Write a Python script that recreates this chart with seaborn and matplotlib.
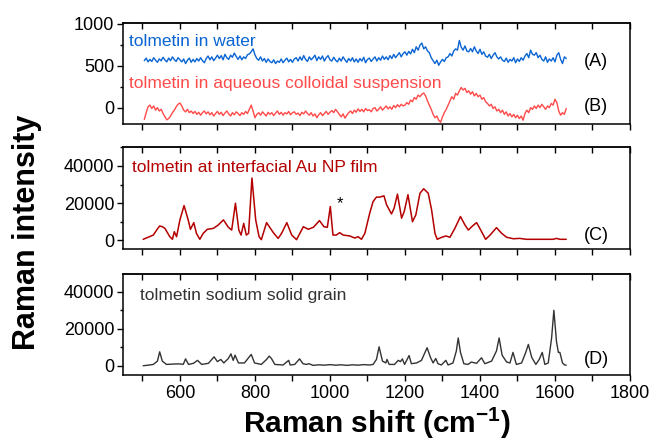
import numpy as np
import pandas as pd
import matplotlib
matplotlib.use("Agg")
import matplotlib.pyplot as plt
from matplotlib.ticker import MultipleLocator, NullLocator
import seaborn as sns

# ---------------- data ----------------
shift_ab = list(range(505, 1631, 5))

water = [
    560, 590, 545, 575, 550, 595, 565, 540, 580, 558,
    600, 568, 545, 590, 560, 605, 572, 550, 595, 570,
    545, 580, 525, 565, 590, 540, 575, 545, 585, 555,
    595, 560, 535, 585, 615, 570, 605, 560, 590, 625,
    585, 620, 570, 635, 595, 575, 625, 600, 650, 610,
    575, 615, 570, 605, 585, 630, 640, 665, 700, 630,
    585, 565, 605, 555, 585, 540, 580, 550, 535, 570,
    525, 555, 540, 580, 535, 565, 590, 545, 575, 540,
    580, 595, 555, 605, 565, 620, 575, 550, 605, 570,
    595, 625, 560, 605, 575, 615, 555, 595, 620, 570,
    555, 600, 565, 545, 590, 555, 605, 570, 540, 585,
    555, 595, 545, 580, 540, 585, 555, 600, 535, 575,
    590, 550, 580, 605, 555, 595, 565, 615, 575, 605,
    570, 620, 585, 635, 595, 625, 655, 605, 645, 665,
    625, 670, 640, 695, 655, 725, 685, 745, 770, 700,
    725, 675, 655, 595, 560, 525, 565, 505, 545, 575,
    550, 595, 605, 645, 615, 675, 700, 685, 800, 720,
    685, 735, 675, 665, 705, 665, 725, 675, 645, 695,
    635, 665, 615, 600, 635, 585, 625, 655, 605, 580,
    605, 565, 550, 590, 540, 575, 555, 595, 535, 580,
    550, 595, 565, 615, 645, 595, 685, 635, 625, 655,
    595, 625, 575, 555, 605, 540, 580, 555, 595, 545,
    625, 655, 575, 525, 605, 585,
]

colloid = [
    -140, -60, 10, 30, -10, 20, -30, 0, -40, -20,
    -70, -110, -145, -130, -100, -60, -30, 10, 40, 55,
    20, -30, -50, -20, -60, -40, -70, -45, -80, -55,
    -90, -60, -40, -75, -50, -85, -60, -100, -70, -45,
    -80, -55, -95, -65, -40, -75, -100, -60, -85, -50,
    -70, -95, -60, -80, -45, -70, -20, 30, -40, -120,
    -80, -60, -90, -50, -75, -100, -55, -80, -60, -95,
    -65, -40, -80, -55, -90, -60, -75, -45, -85, -60,
    -50, -80, -65, -95, -55, -75, -40, -70, -90, -60,
    -100, -75, -120, -85, -60, -95, -70, -45, -80, -55,
    -35, -60, -20, -50, -80, -110, -75, -125, -90, -60,
    -40, -70, -30, -55, -15, -45, -20, -50, -10, -35,
    -25, -50, -10, 0, -40, -20, 10, -30, -5, 20,
    -15, 10, -20, 25, 0, 35, 10, 40, 20, 30,
    60, 40, 90, 70, 120, 100, 150, 130, 160, 175,
    140, 80, 30, -20, -80, -120, -100, -150, -175, -110,
    -60, -20, 30, 80, 130, 100, 170, 150, 200, 240,
    210, 230, 180, 200, 160, 190, 140, 170, 130, 150,
    100, 120, 70, 50, 20, 40, -10, 10, -40, -20,
    -60, -30, -80, -50, -100, -70, -110, -80, -120, -90,
    -130, -100, -150, -70, -30, -60, 0, -20, 20, -10,
    30, 0, 40, 10, -20, 20, 0, 50, 30, 100,
    60, -40, -90, -60, -80, -10,
]

shift_c = [502, 515, 529, 540, 546, 553, 560, 573, 580, 585, 591, 600, 611, 622, 628,
           637, 644, 653, 662, 673, 689, 702, 716, 729, 738, 748, 757, 763, 770, 777,
           783, 792, 802, 811, 817, 831, 849, 862, 871, 885, 898, 911, 929, 942, 956,
           972, 984, 993, 1001, 1008, 1017, 1026, 1035, 1053, 1066, 1075, 1084, 1093,
           1106, 1115, 1124, 1133, 1144, 1151, 1164, 1171, 1180, 1191, 1198, 1208, 1220,
           1229, 1240, 1250, 1262, 1271, 1280, 1286, 1298, 1309, 1320, 1333, 1348, 1360,
           1369, 1380, 1391, 1402, 1415, 1427, 1444, 1458, 1471, 1489, 1506, 1524, 1560,
           1595, 1604, 1613, 1630]
film = [400, 1500, 2700, 6000, 7600, 7200, 6300, 1800, 400, 4500, 1800, 10900, 18600, 10900, 5800,
        9400, 3600, 400, 3600, 5800, 6300, 8100, 10900, 6900, 5400, 19900, 5400, 2700, 9000, 2700,
        3600, 33500, 10900, 1800, 200, 9400, 4000, 900, 3600, 9400, 2700, 200, 7200, 5800, 6900,
        10500, 7200, 6900, 18100, 2700, 2700, 4000, 2700, 2200, 1100, 1800, 400, 3600,
        14500, 20800, 23200, 23200, 23900, 19000, 14100, 17200, 24800, 11800, 15400, 24500, 9900,
        13600, 25300, 27700, 25300, 16300, 3600, 400, 1500, 2200, 1500, 6300, 12700, 8100,
        5400, 7600, 9400, 5400, 400, 2700, 6700, 3600, 1500, 700, 900, 400, 400,
        400, 900, 400, 400]

shift_d = [502, 515, 529, 540, 546, 553, 564, 582, 595, 609, 615, 623, 636, 647, 658, 676,
           691, 700, 709, 717, 729, 736, 742, 747, 756, 772, 790, 799, 817, 831, 838, 844,
           853, 875, 890, 894, 906, 919, 928, 937, 944, 955, 970, 985, 1000, 1015, 1030,
           1045, 1060, 1075, 1090, 1105, 1115, 1124, 1131, 1140, 1149, 1152, 1158, 1172,
           1182, 1188, 1193, 1199, 1211, 1217, 1231, 1244, 1259, 1268, 1275, 1282, 1288,
           1297, 1309, 1315, 1328, 1337, 1342, 1348, 1357, 1368, 1377, 1391, 1404, 1413,
           1431, 1444, 1451, 1459, 1471, 1480, 1488, 1497, 1511, 1522, 1529, 1538, 1549,
           1558, 1566, 1573, 1582, 1591, 1597, 1604, 1609, 1613, 1620, 1626, 1630]
grain = [0, 300, 700, 2500, 7500, 2500, 700, 900, 1000, 800, 3700, 700, 1300, 2900, 700, 1300,
         4800, 2200, 3400, 1500, 3900, 6400, 2900, 5700, 1500, 1500, 6100, 1500, 700, 3400, 5200, 3900,
         700, 400, 2900, 400, 700, 3700, 1100, 700, 1100, 200, 500, 300, 600, 300, 500,
         200, 500, 300, 600, 400, 700, 3400, 10200, 2500, 1500, 3400, 700, 700,
         2900, 2200, 3700, 700, 5500, 1100, 1500, 2900, 9700, 4500, 1500, 3900, 1100,
         400, 2900, 400, 1500, 8000, 15000, 7200, 1100, 700, 2000, 1300, 4300, 1100,
         2500, 8000, 15000, 5700, 2000, 1500, 7200, 700, 1500, 7200, 11500, 4500, 700,
         3400, 7200, 700, 1500, 15000, 29900, 13000, 7200, 7200, 1500, 400, 300]

labels = ["tolmetin in water", "tolmetin in aqueous colloidal suspension",
          "tolmetin at interfacial Au NP film", "tolmetin sodium solid grain"]
tags = ["(A)", "(B)", "(C)", "(D)"]
xticks = [600, 800, 1000, 1200, 1400, 1600, 1800]

# ---------------- style ----------------
sns.set_style("ticks")
plt.rcParams["font.family"] = ["Liberation Sans", "DejaVu Sans"]
plt.rcParams["mathtext.fontset"] = "custom"
plt.rcParams["mathtext.rm"] = "Liberation Sans"
plt.rcParams["mathtext.bf"] = "Liberation Sans:bold"
plt.rcParams["text.color"] = "black"
plt.rcParams["xtick.color"] = "black"
plt.rcParams["ytick.color"] = "black"
plt.rcParams["xtick.labelcolor"] = "black"
plt.rcParams["ytick.labelcolor"] = "black"

c_blue = "#0a64d2"
c_red = "#ff4a4a"
c_dred = "#b40000"
c_gray = "#333333"

W, H = 651, 440
fig = plt.figure(figsize=(W / 100, H / 100), dpi=100)

def box(top, bottom):
    l, r = 123.3, 630
    return [l / W, 1 - bottom / H, (r - l) / W, (bottom - top) / H]

axA = fig.add_axes(box(22.7, 124))
axC = fig.add_axes(box(147.3, 249.3))
axD = fig.add_axes(box(274, 375))

dfA = pd.DataFrame({"x": shift_ab, "y": water})
dfB = pd.DataFrame({"x": shift_ab, "y": colloid})
dfC = pd.DataFrame({"x": shift_c, "y": film})
dfD = pd.DataFrame({"x": shift_d, "y": grain})

sns.lineplot(data=dfA, x="x", y="y", ax=axA, color=c_blue, lw=1.0, estimator=None, sort=False)
sns.lineplot(data=dfB, x="x", y="y", ax=axA, color=c_red, lw=1.0, estimator=None, sort=False)
sns.lineplot(data=dfC, x="x", y="y", ax=axC, color=c_dred, lw=1.1, estimator=None, sort=False)
sns.lineplot(data=dfD, x="x", y="y", ax=axD, color=c_gray, lw=1.0, estimator=None, sort=False)

axA.set_ylim(-195, 1012)
axC.set_ylim(-5000, 50100)
axD.set_ylim(-5000, 49500)

for ax in (axA, axC, axD):
    ax.set_xlim(449, 1800)
    ax.xaxis.set_major_locator(MultipleLocator(200))
    ax.xaxis.set_minor_locator(MultipleLocator(100))
    ax.tick_params(axis="x", which="both", direction="out", length=4.5, width=1.0,
                   top=False, bottom=True, labelsize=13, pad=2.5)
    ax.tick_params(axis="y", which="major", direction="out", length=4.5, width=1.0,
                   right=False, labelsize=13, pad=2)
    ax.tick_params(axis="y", which="minor", direction="out", length=2.5, width=1.0, right=False)
    for s in ax.spines.values():
        s.set_linewidth(1.1)
        s.set_color("black")
    ax.set_xlabel("")
    ax.set_ylabel("")
    sec = ax.secondary_xaxis("top")
    sec.xaxis.set_major_locator(MultipleLocator(100))
    sec.xaxis.set_minor_locator(NullLocator())
    sec.tick_params(axis="x", which="both", direction="in", length=4, width=1.0,
                    labeltop=False, color="black")
    sec.spines["top"].set_linewidth(1.1)

axA.yaxis.set_major_locator(MultipleLocator(500))
axA.yaxis.set_minor_locator(MultipleLocator(250))
for ax in (axC, axD):
    ax.yaxis.set_major_locator(MultipleLocator(20000))
    ax.yaxis.set_minor_locator(MultipleLocator(10000))

axA.tick_params(axis="x", labelbottom=False)
axC.tick_params(axis="x", labelbottom=False)
axD.set_xticks(xticks)
axD.set_xticklabels([str(v) for v in xticks])

# annotations
axA.text(464, 735, labels[0], color=c_blue, fontsize=12.5, ha="left", va="baseline")
axA.text(464, 231, labels[1], color=c_red, fontsize=12.5, ha="left", va="baseline")
axC.text(471, 36700, labels[2], color=c_dred, fontsize=12.5, ha="left", va="baseline")
axD.text(493, 35600, labels[3], color=c_gray, fontsize=12.5, ha="left", va="baseline")
axA.text(1710, 548, tags[0], fontsize=13, ha="center", va="center")
axA.text(1710, 12, tags[1], fontsize=13, ha="center", va="center")
axC.text(1710, 2200, tags[2], fontsize=13, ha="center", va="center")
axD.text(1710, 3200, tags[3], fontsize=13, ha="center", va="center")
axC.text(1026, 19500, "*", fontsize=12, ha="center", va="center")

fig.text(27 / W, 1 - 232 / H, "Raman intensity", rotation=90, fontsize=22,
         fontweight="bold", ha="center", va="center")
fig.text(377 / W, 1 - 433 / H, r"Raman shift (cm$^{\mathregular{-1}}$)", fontsize=21.5,
         fontweight="bold", ha="center", va="baseline")

fig.savefig("out.png", dpi=100)
